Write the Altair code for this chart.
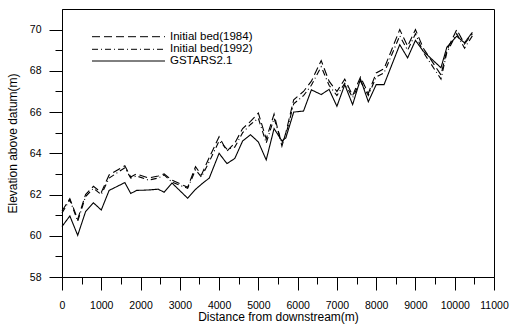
import altair as alt
import pandas as pd

# Distance from the downstream end (m)
distance = [0, 200, 400, 600, 800, 1000, 1200,
            1600, 1750, 1900, 2200, 2450, 2600, 2800,
            3200, 3400, 3550, 3750,
            4000, 4200, 4400, 4600, 4800, 5000,
            5200, 5400, 5600, 5700, 5900,
            6150, 6350, 6600, 6800, 7000,
            7200, 7400, 7600, 7800, 8000, 8200,
            8600, 8800, 9000, 9200,
            9650, 9800, 10050, 10250, 10450]

# Bed elevation above datum (m)
bed_1984 = [61.2, 61.8, 60.8, 62.0, 62.4, 62.1, 62.95,
            63.4, 62.85, 63.0, 62.8, 62.9, 63.0, 62.7,
            62.35, 63.35, 62.95, 63.8,
            64.8, 64.1, 64.5, 65.2, 65.55, 65.95,
            64.7, 65.9, 64.35, 65.0, 66.6,
            67.0, 67.5, 68.5, 67.5, 67.0,
            67.6, 66.8, 67.7, 66.9, 67.9, 68.1,
            70.0, 69.2, 70.0, 69.1,
            67.8, 69.0, 70.0, 69.3, 69.8]

bed_1992 = [61.1, 61.75, 60.7, 61.9, 62.3, 62.0, 62.8,
            63.3, 62.8, 62.9, 62.7, 62.8, 62.95, 62.6,
            62.3, 63.2, 62.85, 63.6,
            64.6, 64.2, 64.3, 65.0, 65.4, 65.7,
            64.5, 65.7, 64.5, 64.9, 66.4,
            66.8, 67.3, 68.2, 67.3, 66.8,
            67.4, 66.7, 67.5, 66.8, 67.7, 67.9,
            69.7, 69.0, 69.8, 68.9,
            67.6, 68.9, 69.8, 69.1, 69.7]

gstars = [60.45, 60.96, 60.02, 61.17, 61.6, 61.25, 62.2,
          62.58, 62.05, 62.2, 62.22, 62.26, 62.11, 62.56,
          61.82, 62.25, 62.5, 62.8,
          64.0, 63.5, 63.75, 64.6, 64.9, 64.55,
          63.68, 65.2, 64.6, 64.75, 66.0,
          66.05, 67.08, 66.85, 67.1, 66.28,
          67.33, 66.36, 67.6, 66.5, 67.33, 67.33,
          69.27, 68.63, 69.48, 68.95,
          68.15, 69.15, 69.68, 69.36, 69.87]

series_names = ["Initial bed(1984)", "Initial bed(1992)", "GSTARS2.1"]
series_values = [bed_1984, bed_1992, gstars]
series_dashes = [[8, 4], [6, 3, 1, 3], [1, 0]]

rows = []
for name, vals in zip(series_names, series_values):
    for d, v in zip(distance, vals):
        rows.append({"distance": d, "elevation": v, "series": name})
df = pd.DataFrame(rows)

x_ticks = list(range(0, 11001, 500))
y_ticks = list(range(58, 71))

FONT = "Liberation Sans"

x_axis = alt.Axis(
    values=x_ticks,
    format="d",
    labelExpr="datum.value % 1000 === 0 ? datum.label : ''",
    labelOverlap=False,
    labelFlush=False,
    tickSize={"condition": {"test": "datum.value % 1000 === 0", "value": 13}, "value": 7},
    labelPadding=10,
    title="Distance from downstream(m)",
    titlePadding=1,
    grid=False,
)
y_axis = alt.Axis(
    values=y_ticks,
    labelExpr="datum.value % 2 === 0 ? datum.label : ''",
    labelOverlap=False,
    labelFlush=False,
    tickSize={"condition": {"test": "datum.value % 2 === 0", "value": 13}, "value": 7},
    labelPadding=8,
    title="Elevation above datum(m)",
    titlePadding=10,
    grid=False,
)

lines = (
    alt.Chart(df)
    .mark_line(color="black", strokeWidth=1.1)
    .encode(
        x=alt.X("distance:Q", scale=alt.Scale(domain=[0, 11000], nice=False), axis=x_axis),
        y=alt.Y("elevation:Q", scale=alt.Scale(domain=[58, 71], nice=False, zero=False), axis=y_axis),
        strokeDash=alt.StrokeDash(
            "series:N",
            scale=alt.Scale(domain=series_names, range=series_dashes),
            legend=None,
        ),
    )
)

# Key in the upper-left corner of the plot: one sample line and label per series
legend_layers = []
row_y = [27.7, 40.3, 52.0]
for name, dash, ry in zip(series_names, series_dashes, row_y):
    key_df = pd.DataFrame({"label": [name]})
    sample = alt.Chart(key_df).mark_rule(color="black", strokeWidth=1, strokeDash=dash).encode(
        x=alt.value(30), x2=alt.value(103), y=alt.value(ry)
    )
    label = alt.Chart(key_df).mark_text(
        align="left", baseline="middle", font=FONT, fontSize=11.5, color="black"
    ).encode(x=alt.value(108), y=alt.value(ry), text="label:N")
    legend_layers += [sample, label]

chart = (
    alt.layer(lines, *legend_layers)
    .properties(
        width=432,
        height=268,
        autosize="none",
        padding={"left": 62, "top": 9, "right": 17, "bottom": 49},
    )
    .configure_view(stroke="black", strokeWidth=1)
    .configure_axis(
        domainColor="black",
        tickColor="black",
        labelColor="black",
        titleColor="black",
        labelFont=FONT,
        titleFont=FONT,
        labelFontSize=10.5,
        titleFontSize=12,
        titleFontWeight="normal",
    )
)

chart.save("out.html", embed_options={"renderer": "svg", "actions": False})
